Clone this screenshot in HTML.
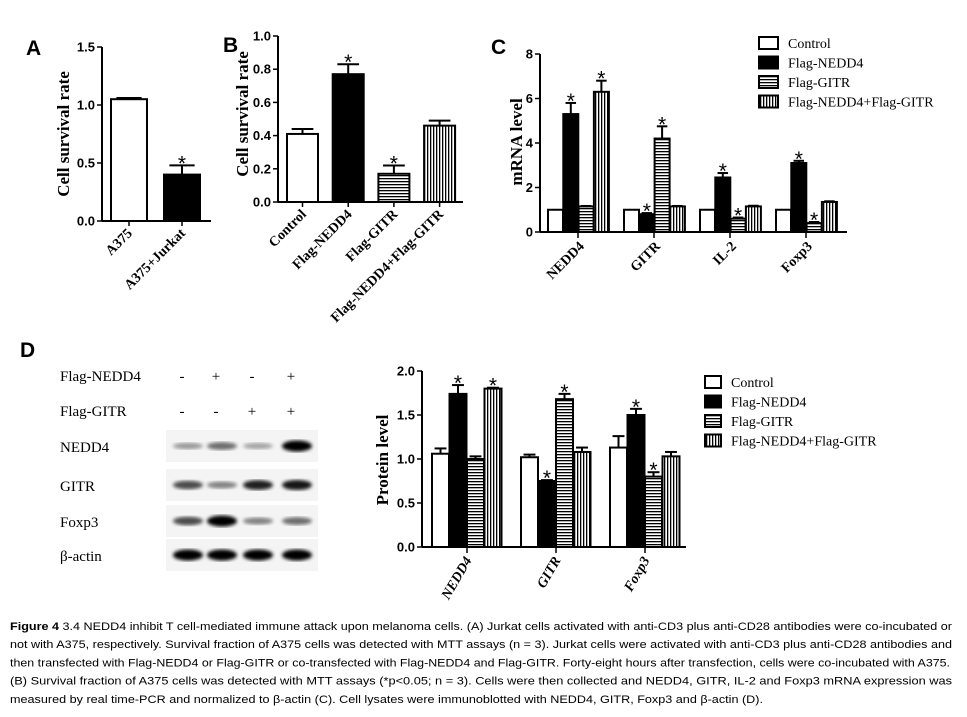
<!DOCTYPE html>
<html><head><meta charset="utf-8"><style>
html,body{margin:0;padding:0;background:#fff;}
svg{display:block;}
.tk{font-family:"Liberation Sans",sans-serif;font-weight:bold;font-size:13px;}
.cat{font-family:"Liberation Serif",serif;font-weight:bold;font-size:14px;}
.yt{font-family:"Liberation Serif",serif;font-weight:bold;font-size:17px;}
.lg{font-family:"Liberation Serif",serif;font-size:14px;}
.pl{font-family:"Liberation Sans",sans-serif;font-weight:bold;font-size:21px;}
.wb{font-family:"Liberation Serif",serif;font-size:15px;}
.cap{font-family:"Liberation Sans",sans-serif;font-size:11px;}
</style></head><body>
<svg id="fig" width="967" height="717" viewBox="0 0 967 717" xmlns="http://www.w3.org/2000/svg">
<defs>
<pattern id="ph" width="4" height="3" patternUnits="userSpaceOnUse"><rect width="4" height="3" fill="#fff"/><rect y="1" width="4" height="1.3" fill="#000"/></pattern>
<pattern id="pv" width="3" height="4" patternUnits="userSpaceOnUse"><rect width="3" height="4" fill="#fff"/><rect x="1" width="1.3" height="4" fill="#000"/></pattern>
<filter id="blur"><feGaussianBlur stdDeviation="1.8"/></filter>
</defs>
<g id="root"></g>
</svg>
<script>
// ---- Panel A data ----
const catsA = ["A375","A375+Jurkat"];
const valsA = [1.05, 0.40];
const errsA = [0.01, 0.08];
const sigA = [false, true];
const ticksA = [0, 0.5, 1.0, 1.5];
// ---- Panel B data ----
const catsB = ["Control","Flag-NEDD4","Flag-GITR","Flag-NEDD4+Flag-GITR"];
const valsB = [0.41, 0.77, 0.17, 0.46];
const errsB = [0.03, 0.06, 0.05, 0.03];
const sigB = [false, true, true, false];
const ticksB = [0, 0.2, 0.4, 0.6, 0.8, 1.0];
// ---- Panel C data ----
const catsC = ["NEDD4","GITR","IL-2","Foxp3"];
const seriesNames = ["Control","Flag-NEDD4","Flag-GITR","Flag-NEDD4+Flag-GITR"];
const cControl = [1, 1, 1, 1];
const cNedd4 = [5.3, 0.8, 2.45, 3.1];
const cGitr = [1.15, 4.2, 0.6, 0.4];
const cBoth = [6.3, 1.15, 1.15, 1.35];
const cErrControl = [0, 0, 0, 0];
const cErrNedd4 = [0.5, 0.05, 0.2, 0.1];
const cErrGitr = [0.02, 0.55, 0.05, 0.05];
const cErrBoth = [0.5, 0.02, 0.03, 0.03];
const cSig = [[false,true,false,true],[false,true,true,false],[false,true,true,false],[false,true,true,false]];
const ticksC = [0, 2, 4, 6, 8];
// ---- Panel D data ----
const catsD = ["NEDD4","GITR","Foxp3"];
const dControl = [1.06, 1.02, 1.13];
const dNedd4 = [1.74, 0.75, 1.50];
const dGitr = [1.00, 1.68, 0.80];
const dBoth = [1.80, 1.08, 1.03];
const dErrControl = [0.06, 0.03, 0.13];
const dErrNedd4 = [0.10, 0.01, 0.07];
const dErrGitr = [0.03, 0.06, 0.05];
const dErrBoth = [0.01, 0.05, 0.05];
const dSig = [[false,true,false,true],[false,true,true,false],[false,true,true,false]];
const ticksD = [0, 0.5, 1.0, 1.5, 2.0];
const ticksDLabels = ["0.0","0.5","1.0","1.5","2.0"];

const NS = "http://www.w3.org/2000/svg";
const root = document.getElementById('root');
function mk(tag, attrs, parent, text){
  const e = document.createElementNS(NS, tag);
  for (const k in attrs) e.setAttribute(k, attrs[k]);
  if (text !== undefined) e.textContent = text;
  (parent||root).appendChild(e);
  return e;
}
const fills = ["#fff","#000","url(#ph)","url(#pv)"];

function axes(g, x0, x1, y0, yTop, ticks, maxV, labels, tickDec, name, fs){
  const sy = v => y0 - (v / maxV) * (y0 - yTop);
  const ax = mk('line',{x1:x0,y1:y0+0.5,x2:x0,y2:yTop,stroke:'#000','stroke-width':2},g);
  
  
  const bx = mk('line',{x1:x0,y1:y0,x2:x1,y2:y0,stroke:'#000','stroke-width':2},g);
  
  
  ticks.forEach((t,i)=>{
    const y = sy(t);
    mk('line',{x1:x0-5,y1:y,x2:x0,y2:y,stroke:'#000','stroke-width':1.5},g);
    const tl = mk('text',{x:x0-7,y:y+4.5,'text-anchor':'end',class:'tk','font-size':fs||13},g, labels ? labels[i] : t.toFixed(tickDec));
    
    
  });
  return sy;
}
function bar(g, x, w, v, err, sy, fill, sig, name){
  const y0 = sy(0), y = sy(v);
  if (err > 0){
    const ye = sy(v+err);
    mk('line',{x1:x+w/2,y1:y,x2:x+w/2,y2:ye,stroke:'#000','stroke-width':2},g);
    mk('line',{x1:x+w/2-w*0.35,y1:ye,x2:x+w/2+w*0.35,y2:ye,stroke:'#000','stroke-width':2},g);
  }
  const r = mk('rect',{x:x,y:y,width:w,height:y0-y,fill:fill,stroke:'#000','stroke-width':2},g);
  
  
  if (sig){
    const s = mk('text',{x:x+w/2,y:sy(v+err)+5,'text-anchor':'middle','font-family':'Liberation Sans, sans-serif','font-size':21},g,'*');
    
    
  }
}
function catLabel(g, x, y, txt, rot, cls, name, italic){
  const t = mk('text',{x:x,y:y,'text-anchor':'end',class:cls,transform:`rotate(${rot} ${x} ${y})`},g,txt);
  if (italic) t.setAttribute('font-style','italic');
  
  
}
function yTitle(g, x, y, txt, name){
  const t = mk('text',{x:x,y:y,'text-anchor':'middle',class:'yt',transform:`rotate(-90 ${x} ${y})`},g,txt);
  
  
}
function panelLabel(x,y,txt){
  const t = mk('text',{x:x,y:y,class:'pl'},root,txt);
  
  
}

// ---- Panel A ----
const gA = mk('g',{});  
panelLabel(26,55,'A');
const syA = axes(gA, 102, 211, 221, 47, ticksA, 1.5, null, 1, 'panel-a');
catsA.forEach((c,i)=>{
  const x = 111 + i*53;
  bar(gA, x, 36, valsA[i], errsA[i], syA, i===0?'#fff':'#000', sigA[i], 'bar-a-'+c.toLowerCase());
  mk('line',{x1:x+18,y1:221,x2:x+18,y2:226,stroke:'#000','stroke-width':1.5},gA);
  catLabel(gA, x+22, 234, c, -45, 'cat', 'x-label-a');
});
yTitle(gA, 69, 134, 'Cell survival rate', 'panel-a-y-title');

// ---- Panel B ----
const gB = mk('g',{});  
panelLabel(223,52,'B');
const syB = axes(gB, 278, 463, 202, 36, ticksB, 1.0, null, 1, 'panel-b');
catsB.forEach((c,i)=>{
  const x = 287 + i*45.7;
  bar(gB, x, 31, valsB[i], errsB[i], syB, fills[i], sigB[i], 'bar-b-'+i);
  mk('line',{x1:x+15.5,y1:202,x2:x+15.5,y2:207,stroke:'#000','stroke-width':1.5},gB);
  catLabel(gB, x+20, 215, c, -45, 'cat', 'x-label-b');
});
yTitle(gB, 248, 114, 'Cell survival rate', 'panel-b-y-title');

// ---- Panel C ----
const gC = mk('g',{});  
panelLabel(491,54,'C');
const syC = axes(gC, 540, 847, 232, 54, ticksC, 8, null, 0, 'panel-c');
const cVals = [cControl,cNedd4,cGitr,cBoth];
const cErrs = [cErrControl,cErrNedd4,cErrGitr,cErrBoth];
catsC.forEach((c,i)=>{
  const gx = 548 + i*76;
  cVals.forEach((s,j)=>{
    bar(gC, gx + j*15.3, 15, s[i], cErrs[j][i], syC, fills[j], cSig[i][j], 'bar-c-'+c.toLowerCase()+'-'+j);
  });
  mk('line',{x1:gx+30,y1:232,x2:gx+30,y2:238,stroke:'#000','stroke-width':1.5},gC);
  catLabel(gC, gx+37, 247, c, -45, 'cat', 'x-label-c');
});
yTitle(gC, 522, 142, 'mRNA level', 'panel-c-y-title');
seriesNames.forEach((n,j)=>{
  const y = 37 + j*19.5;
  const r = mk('rect',{x:759,y:y,width:19,height:12,fill:fills[j],stroke:'#000','stroke-width':2},gC);
  
  
  const t = mk('text',{x:788,y:y+11,class:'lg'},gC,n);
  
  
});

// ---- Panel D chart ----
const gD = mk('g',{});  
panelLabel(20,357,'D');
const syD = axes(gD, 422, 686, 547, 371, ticksD, 2.0, ticksDLabels, 1, 'panel-d', 12);
const dVals = [dControl,dNedd4,dGitr,dBoth];
const dErrs = [dErrControl,dErrNedd4,dErrGitr,dErrBoth];
catsD.forEach((c,i)=>{
  const gx = 432 + i*89;
  dVals.forEach((s,j)=>{
    bar(gD, gx + j*17.5, 17, s[i], dErrs[j][i], syD, fills[j], dSig[i][j], 'bar-d-'+c.toLowerCase()+'-'+j);
  });
  mk('line',{x1:gx+35,y1:547,x2:gx+35,y2:553,stroke:'#000','stroke-width':1.5},gD);
  catLabel(gD, gx+40, 560, c, -60, 'cat', 'x-label-d', true);
});
yTitle(gD, 388, 460, 'Protein level', 'panel-d-y-title');
seriesNames.forEach((n,j)=>{
  const y = 376 + j*19.5;
  const r = mk('rect',{x:705,y:y,width:16,height:12,fill:fills[j],stroke:'#000','stroke-width':2},gD);
  
  
  const t = mk('text',{x:731,y:y+11,class:'lg'},gD,n);
  
  
});

// ---- Western blot ----
const gW = mk('g',{});  
const laneX = [188, 222, 258, 297];
const nedd4Sign = ["-","+","-","+"];
const gitrSign = ["-","-","+","+"];
[["Flag-NEDD4",381,nedd4Sign],["Flag-GITR",416,gitrSign]].forEach(([lab,y,signs])=>{
  const t = mk('text',{x:60,y:y,class:'wb','font-size':14},gW,lab);
  
  
  signs.forEach((s,i)=>{ mk('text',{x:laneX[i]-6,y:y,'text-anchor':'middle',class:'wb'},gW,s); });
});
const bandRows = ["NEDD4","GITR","Foxp3","β-actin"];
const bandY = [446, 485, 521, 555];
const bandInt = [[0.25,0.45,0.2,1.0],[0.6,0.35,0.8,0.85],[0.6,1.0,0.35,0.45],[1,1,1,1]];
bandRows.forEach((r,k)=>{
  mk('rect',{x:166,y:bandY[k]-16,width:152,height:32,fill:'#f4f4f4'},gW);
  const t = mk('text',{x:60,y:bandY[k]+6,class:'wb','font-size':18},gW,r);
  
  
  laneX.forEach((x,i)=>{
    const a = bandInt[k][i];
    const b = mk('ellipse',{cx:x,cy:bandY[k],rx:15,ry:2.5+a*3,fill:'#000','fill-opacity':Math.min(1,0.15+a*0.9),filter:'url(#blur)'},gW);
    
    
  });
});

// ---- Caption ----
const gCap = mk('g',{});  
const capLines = [
 ["Figure 4 ", "3.4 NEDD4 inhibit T cell-mediated immune attack upon melanoma cells. (A) Jurkat cells activated with anti-CD3 plus anti-CD28 antibodies were co-incubated or", 952],
 ["", "not with A375, respectively. Survival fraction of A375 cells was detected with MTT assays (n = 3). Jurkat cells were activated with anti-CD3 plus anti-CD28 antibodies and", 952],
 ["", "then transfected with Flag-NEDD4 or Flag-GITR or co-transfected with Flag-NEDD4 and Flag-GITR. Forty-eight hours after transfection, cells were co-incubated with A375.", 950],
 ["", "(B) Survival fraction of A375 cells was detected with MTT assays (*p<0.05; n = 3). Cells were then collected and NEDD4, GITR, IL-2 and Foxp3 mRNA expression was", 952],
 ["", "measured by real time-PCR and normalized to β-actin (C). Cell lysates were immunoblotted with NEDD4, GITR, Foxp3 and β-actin (D).", 763]
];
capLines.forEach((l,i)=>{
  const y = 630 + i*18.2;
  const t = mk('text',{x:10,y:y,class:'cap',textLength:l[2]-10,lengthAdjust:'spacingAndGlyphs'},gCap);
  if (l[0]){ mk('tspan',{'font-weight':'bold'},t,l[0]); }
  mk('tspan',{},t,l[1]);
  
  
});
</script>
</body></html>
